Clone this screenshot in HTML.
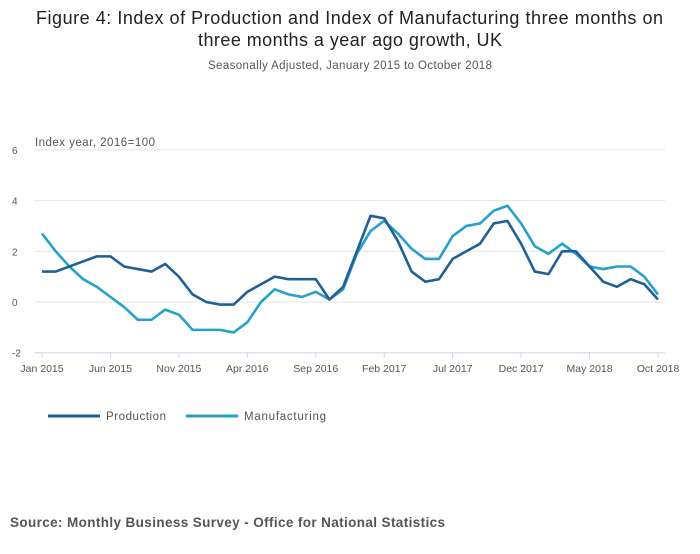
<!DOCTYPE html>
<html><head><meta charset="utf-8"><style>
body{margin:0;background:#fff;font-family:"Liberation Sans",sans-serif;}
svg text{font-family:"Liberation Sans",sans-serif;}
</style></head><body>
<svg width="700" height="549">
<text x="36" y="24" textLength="627" lengthAdjust="spacing" font-size="18" fill="#222">Figure 4: Index of Production and Index of Manufacturing three months on</text>
<text x="198" y="46" textLength="304" lengthAdjust="spacing" font-size="18" fill="#222">three months a year ago growth, UK</text>
<text x="208" y="69" textLength="284" lengthAdjust="spacing" font-size="11.5" fill="#555">Seasonally Adjusted, January 2015 to October 2018</text>
<text x="35" y="146" textLength="120" lengthAdjust="spacing" font-size="11.5" fill="#555">Index year, 2016=100</text>
<g id="grid"></g><g id="xaxis"></g><g id="lines"></g>
<line x1="48" y1="416" x2="100" y2="416" stroke="#206095" stroke-width="3"/>
<text x="106" y="420" textLength="60" lengthAdjust="spacing" font-size="11.5" fill="#555">Production</text>
<line x1="186" y1="416" x2="238" y2="416" stroke="#27a0cc" stroke-width="3"/>
<text x="244" y="420" textLength="82" lengthAdjust="spacing" font-size="11.5" fill="#555">Manufacturing</text>
<text x="10" y="527" textLength="435" lengthAdjust="spacing" font-size="13.5" font-weight="bold" fill="#555">Source: Monthly Business Survey - Office for National Statistics</text>
</svg>
<script>
const yTicks=[6,4,2,0,-2];
const xTickLabels=["Jan 2015","Jun 2015","Nov 2015","Apr 2016","Sep 2016","Feb 2017","Jul 2017","Dec 2017","May 2018","Oct 2018"];
const production=[1.2,1.2,1.4,1.6,1.8,1.8,1.4,1.3,1.2,1.5,1.0,0.3,0.0,-0.1,-0.1,0.4,0.7,1.0,0.9,0.9,0.9,0.1,0.6,2.0,3.4,3.3,2.4,1.2,0.8,0.9,1.7,2.0,2.3,3.1,3.2,2.3,1.2,1.1,2.0,2.0,1.4,0.8,0.6,0.9,0.7,0.1];
const manufacturing=[2.7,2.0,1.4,0.9,0.6,0.2,-0.2,-0.7,-0.7,-0.3,-0.5,-1.1,-1.1,-1.1,-1.2,-0.8,0.0,0.5,0.3,0.2,0.4,0.1,0.5,1.9,2.8,3.2,2.7,2.1,1.7,1.7,2.6,3.0,3.1,3.6,3.8,3.1,2.2,1.9,2.3,1.9,1.4,1.3,1.4,1.4,1.0,0.3];
const NS="http://www.w3.org/2000/svg";
const n=production.length;
function x(i){return 42+i*(616/(n-1));}
function y(v){return 302-v*25.35;}
const grid=document.getElementById('grid');
yTicks.forEach(t=>{
 const l=document.createElementNS(NS,'line');
 l.setAttribute('x1',35);l.setAttribute('x2',665);l.setAttribute('y1',y(t));l.setAttribute('y2',y(t));
 l.setAttribute('stroke',t===-2?'#ccd6e8':'#e4e4e4');l.setAttribute('stroke-width',1);
 
 
 grid.appendChild(l);
 const tx=document.createElementNS(NS,'text');
 tx.setAttribute('x',12);tx.setAttribute('y',y(t)+4);tx.setAttribute('font-size',10);tx.setAttribute('fill','#555');
 tx.textContent=t;
 
 
 grid.appendChild(tx);
});
const xa=document.getElementById('xaxis');
xTickLabels.forEach((lab,k)=>{
 const i=k*5;
 const l=document.createElementNS(NS,'line');
 l.setAttribute('x1',x(i));l.setAttribute('x2',x(i));l.setAttribute('y1',352);l.setAttribute('y2',358);
 l.setAttribute('stroke','#ccd6e8');
 
 
 xa.appendChild(l);
 const tx=document.createElementNS(NS,'text');
 tx.setAttribute('x',x(i));tx.setAttribute('y',372);tx.setAttribute('font-size',10.5);tx.setAttribute('fill','#555');tx.setAttribute('text-anchor','middle');
 tx.textContent=lab;
 
 
 xa.appendChild(tx);
});
const lg=document.getElementById('lines');
[[manufacturing,'#27a0cc','manufacturing-line'],[production,'#206095','production-line']].forEach(([d,c,nm])=>{
 const p=document.createElementNS(NS,'polyline');
 p.setAttribute('points',d.map((v,i)=>x(i)+','+y(v)).join(' '));
 p.setAttribute('fill','none');p.setAttribute('stroke',c);p.setAttribute('stroke-width',2.6);p.setAttribute('stroke-linejoin','round');
 
 
 lg.appendChild(p);
});
</script>
</body></html>
